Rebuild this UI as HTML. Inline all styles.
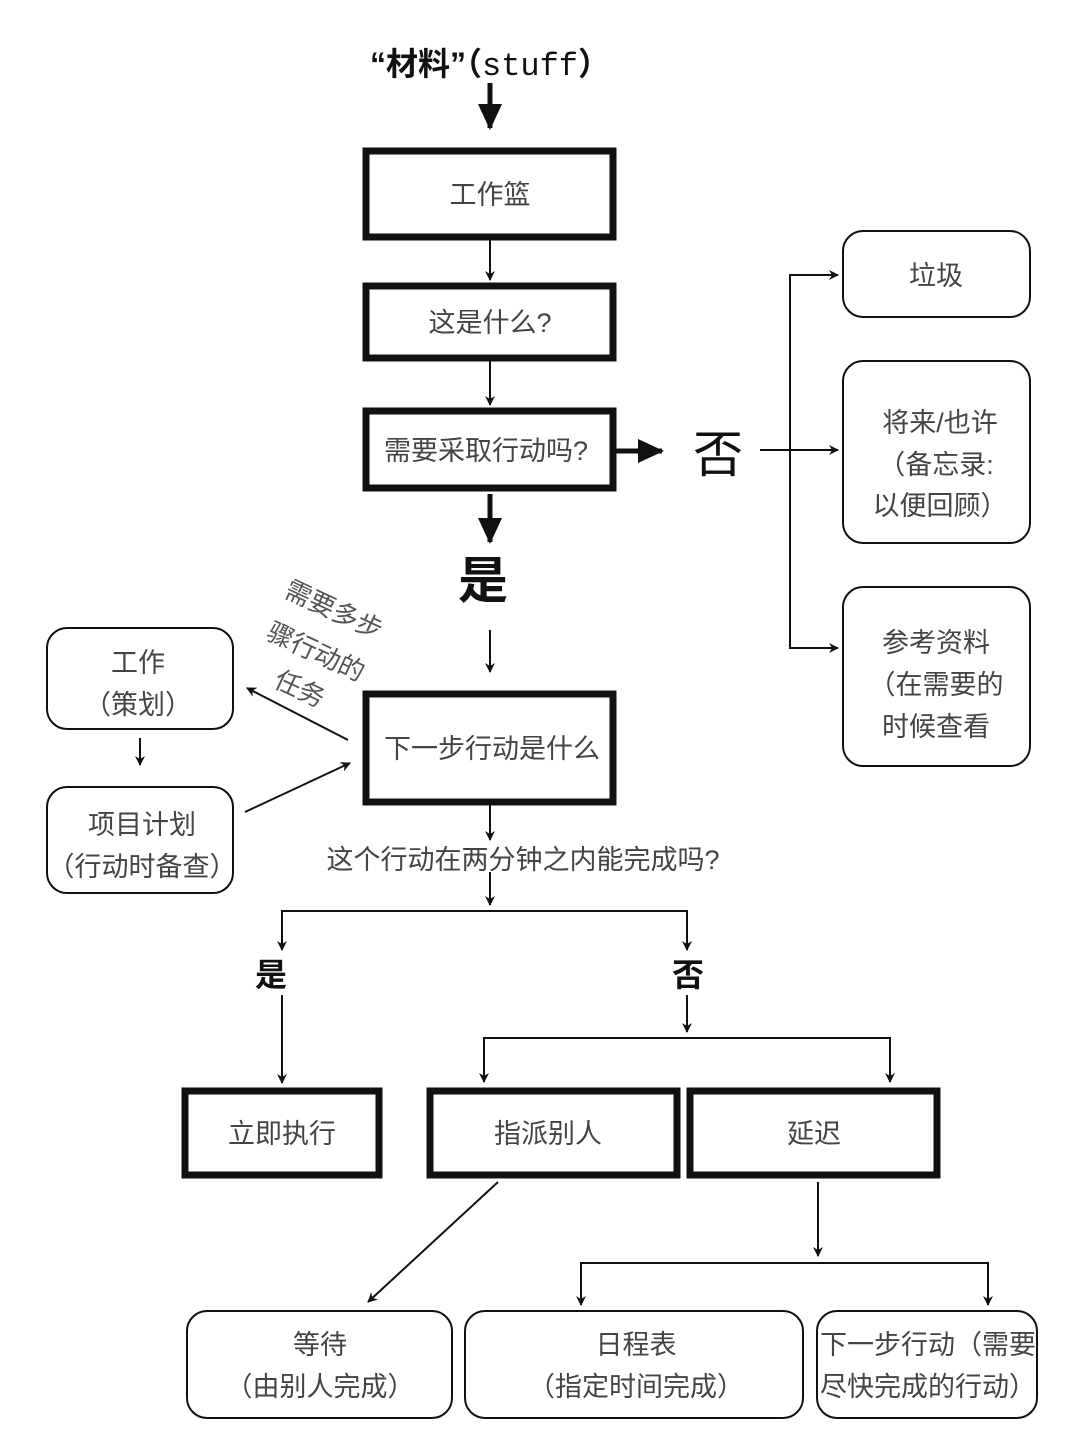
<!DOCTYPE html>
<html><head><meta charset="utf-8"><style>
html,body{margin:0;padding:0;background:#fff}
svg{display:block}
text{font-family:"Liberation Sans","Noto Sans CJK SC",sans-serif;}
</style></head><body>
<svg width="1080" height="1448" viewBox="0 0 1080 1448" xmlns="http://www.w3.org/2000/svg">
<defs>
<marker id="a" markerWidth="10" markerHeight="10" refX="9" refY="5" orient="auto" markerUnits="userSpaceOnUse"><path d="M0,0 L10,5 L0,10 L3,5 z" fill="#111"/></marker>
<marker id="b" markerWidth="26" markerHeight="26" refX="24" refY="13" orient="auto" markerUnits="userSpaceOnUse"><path d="M0,1 L26,13 L0,25 z" fill="#111"/></marker>
</defs>
<g fill="none" stroke="#111">
<!-- thick boxes -->
<g stroke-width="7">
<rect x="366" y="151" width="247" height="86"/>
<rect x="366" y="286" width="247" height="72"/>
<rect x="366" y="411" width="247" height="77"/>
<rect x="366" y="694" width="247" height="108"/>
<rect x="185" y="1091" width="194" height="84"/>
<rect x="430" y="1091" width="247" height="84"/>
<rect x="690" y="1091" width="247" height="84"/>
</g>
<!-- rounded boxes -->
<g stroke-width="2">
<rect x="843" y="231" width="187" height="86" rx="20"/>
<rect x="843" y="361" width="187" height="182" rx="20"/>
<rect x="843" y="587" width="187" height="179" rx="20"/>
<rect x="47" y="628" width="186" height="101" rx="20"/>
<rect x="47" y="787" width="186" height="106" rx="20"/>
<rect x="187" y="1311" width="265" height="107" rx="20"/>
<rect x="465" y="1311" width="338" height="107" rx="20"/>
<rect x="817" y="1311" width="220" height="107" rx="20"/>
</g>
<!-- connectors -->
<g stroke-width="2">
<line x1="490" y1="237" x2="490" y2="280" marker-end="url(#a)"/>
<line x1="490" y1="358" x2="490" y2="405" marker-end="url(#a)"/>
<line x1="490" y1="630" x2="490" y2="672" marker-end="url(#a)"/>
<polyline points="838,275 790,275 790,648 838,648" marker-end="url(#a)"/>
<line x1="790" y1="275" x2="838" y2="275" marker-end="url(#a)"/>
<line x1="760" y1="450" x2="838" y2="450" marker-end="url(#a)"/>
<line x1="348" y1="740" x2="247" y2="688" marker-end="url(#a)"/>
<line x1="245" y1="812" x2="350" y2="763" marker-end="url(#a)"/>
<line x1="140" y1="738" x2="140" y2="765" marker-end="url(#a)"/>
<line x1="490" y1="802" x2="490" y2="840" marker-end="url(#a)"/>
<line x1="490" y1="872" x2="490" y2="905" marker-end="url(#a)"/>
<polyline points="282,948 282,911 687,911 687,948" />
<line x1="282" y1="920" x2="282" y2="950" marker-end="url(#a)"/>
<line x1="687" y1="920" x2="687" y2="950" marker-end="url(#a)"/>
<line x1="282" y1="995" x2="282" y2="1083" marker-end="url(#a)"/>
<line x1="687" y1="995" x2="687" y2="1032" marker-end="url(#a)"/>
<polyline points="484,1080 484,1038 890,1038 890,1080"/>
<line x1="484" y1="1050" x2="484" y2="1082" marker-end="url(#a)"/>
<line x1="890" y1="1050" x2="890" y2="1082" marker-end="url(#a)"/>
<line x1="498" y1="1182" x2="368" y2="1302" marker-end="url(#a)"/>
<line x1="818" y1="1182" x2="818" y2="1256" marker-end="url(#a)"/>
<polyline points="581,1300 581,1263 988,1263 988,1300"/>
<line x1="581" y1="1275" x2="581" y2="1305" marker-end="url(#a)"/>
<line x1="988" y1="1275" x2="988" y2="1305" marker-end="url(#a)"/>
</g>
<g stroke-width="5">
<line x1="490" y1="83" x2="490" y2="128" marker-end="url(#b)"/>
<line x1="615" y1="451" x2="662" y2="451" marker-end="url(#b)"/>
<line x1="490" y1="494" x2="490" y2="542" marker-end="url(#b)"/>
</g>
</g>
<g fill="#111" text-anchor="middle">
<text x="490" y="75" font-size="32" font-weight="bold">“材料”（<tspan font-family="Liberation Mono" font-weight="normal">stuff</tspan>）</text>
<text x="718" y="472" font-size="50">否</text>
<text x="483" y="598" font-size="50" font-weight="bold">是</text>
<text x="271" y="986" font-size="32" font-weight="bold">是</text>
<text x="688" y="986" font-size="32" font-weight="bold">否</text>
</g>
<g fill="#444" text-anchor="middle" font-size="27">
<text x="490" y="204">工作篮</text>
<text x="490" y="332">这是什么?</text>
<text x="486" y="460">需要采取行动吗?</text>
<text x="492" y="758">下一步行动是什么</text>
<text x="523" y="869">这个行动在两分钟之内能完成吗?</text>
<text x="282" y="1143">立即执行</text>
<text x="548" y="1143">指派别人</text>
<text x="814" y="1143">延迟</text>
<text x="936" y="285">垃圾</text>
<text x="940" y="432">将来/也许</text>
<text x="936" y="474">（备忘录:</text>
<text x="940" y="515">以便回顾）</text>
<text x="936" y="652">参考资料</text>
<text x="936" y="694">（在需要的</text>
<text x="936" y="736">时候查看</text>
<text x="138" y="672">工作</text>
<text x="138" y="714">（策划）</text>
<text x="142" y="834">项目计划</text>
<text x="142" y="876">（行动时备查）</text>
<text x="320" y="1354">等待</text>
<text x="320" y="1396">（由别人完成）</text>
<text x="636" y="1354">日程表</text>
<text x="636" y="1396">（指定时间完成）</text>
<text x="928" y="1354">下一步行动（需要</text>
<text x="928" y="1396">尽快完成的行动）</text>
</g>
<g fill="#555" font-size="26" text-anchor="middle">
<text transform="translate(330,618) rotate(25)">需要多步</text>
<text transform="translate(312,660) rotate(25)">骤行动的</text>
<text transform="translate(296,697) rotate(25)">任务</text>
</g>
</svg>
</body></html>
